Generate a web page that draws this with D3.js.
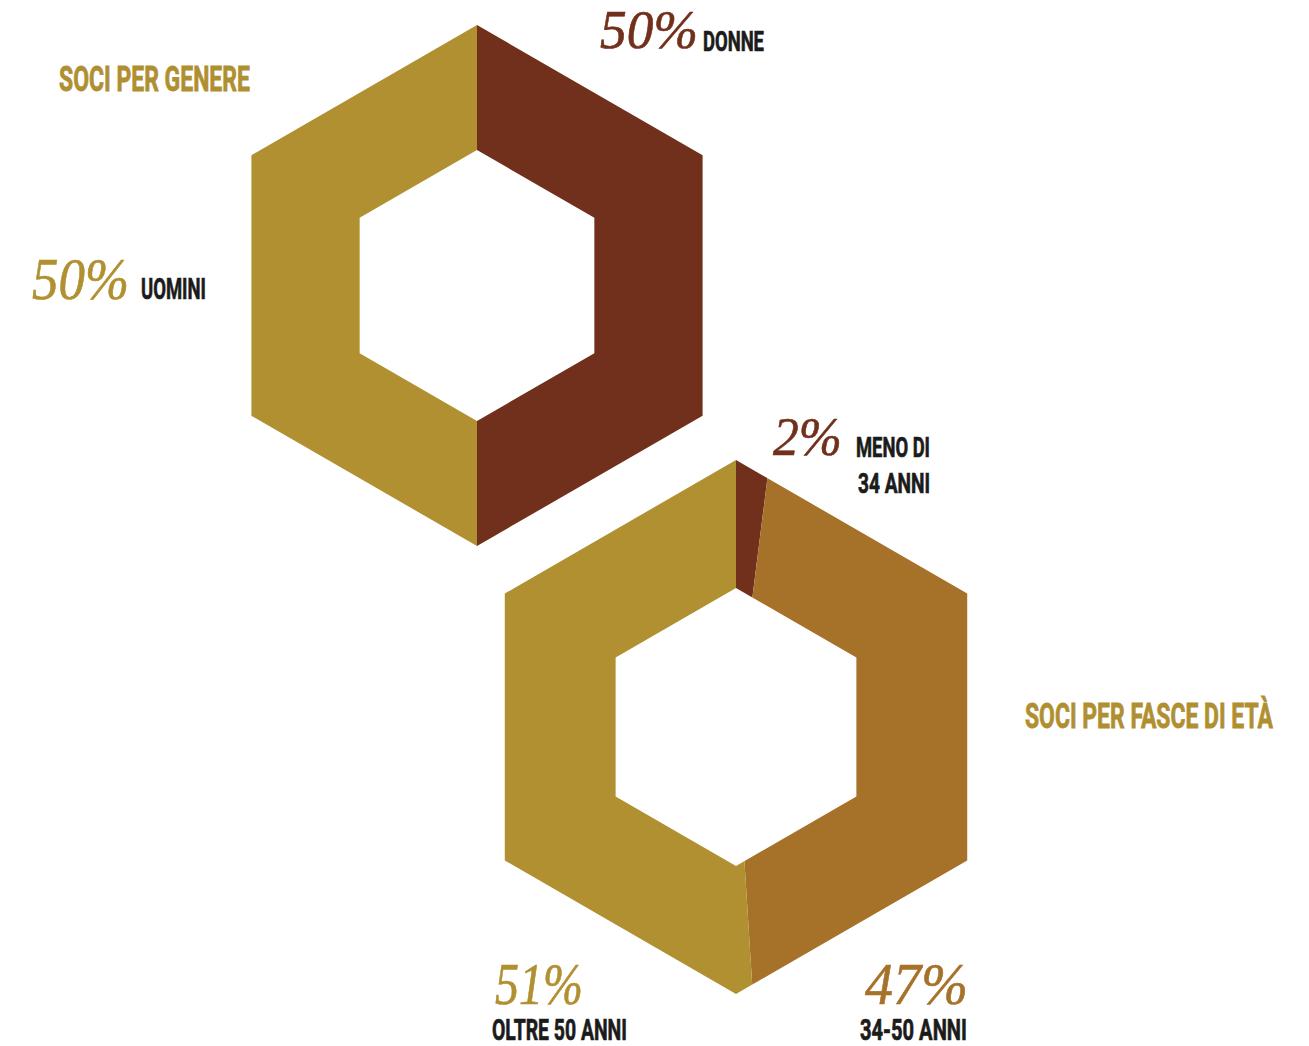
<!DOCTYPE html>
<html>
<head>
<meta charset="utf-8">
<script src="https://cdn.jsdelivr.net/npm/d3@7"></script>
<style>
  html, body { margin: 0; padding: 0; background: #ffffff; }
  svg { display: block; }
</style>
</head>
<body>
<svg id="chart" width="1309" height="1046"></svg>
<script>
// Soci per genere
const genderLabels = ["DONNE", "UOMINI"];
const genderValues = [50, 50];
const genderColors = ["#71301B", "#B09030"];

// Soci per fasce di età
const ageLabels = [["MENO DI", "34 ANNI"], ["34-50 ANNI"], ["OLTRE 50 ANNI"]];
const ageValues = [2, 47, 51];
const ageColors = ["#71301B", "#A6722A", "#B09030"];

const titles = ["SOCI PER GENERE", "SOCI PER FASCE DI ETÀ"];

const svg = d3.select("#chart");
const defs = svg.append("defs");

const SANS = "Roboto, 'Open Sans', sans-serif";
const SERIF = "'Liberation Serif', 'DejaVu Serif', serif";

// Pointy-top hexagon path, angles measured clockwise from 12 o'clock
function hexPath(r) {
  const pts = d3.range(6).map(i => {
    const a = i * Math.PI / 3;
    return [r * Math.sin(a), -r * Math.cos(a)];
  });
  return "M" + pts.map(p => p.join(",")).join("L") + "Z";
}

// Hexagonal donut: pie sectors clipped to the ring between two hexagons
function hexDonut(id, cx, cy, rOut, rIn, values, colors) {
  defs.append("clipPath").attr("id", id)
    .append("path")
    .attr("clip-rule", "evenodd")
    .attr("d", hexPath(rOut) + hexPath(rIn));

  const pie = d3.pie().sort(null).value(d => d);
  const arc = d3.arc().innerRadius(0).outerRadius(rOut * 1.25);

  const g = svg.append("g")
    .attr("transform", `translate(${cx},${cy})`)
    .attr("clip-path", `url(#${id})`);

  g.selectAll("path")
    .data(pie(values))
    .join("path")
    .attr("d", arc)
    .attr("fill", (d, i) => colors[i]);
}

hexDonut("clip-genere", 477, 285.5, 260.5, 135.5, genderValues, genderColors);
hexDonut("clip-eta", 736, 727, 267, 139, ageValues, ageColors);

// Text helper: squeezes the run horizontally to a target width (condensed display look)
function label(x, y, text, opts) {
  const g = svg.append("g").attr("transform", `translate(${x},${y})`);
  const t = g.append("text")
    .attr("fill", opts.color)
    .attr("font-family", opts.family)
    .attr("font-size", opts.size)
    .attr("font-weight", opts.weight || "normal")
    .attr("font-style", opts.style || "normal")
    .attr("stroke", opts.color)
    .attr("stroke-width", opts.stroke || 0)
    .attr("paint-order", "stroke")
    .text(text);
  if (opts.width) {
    const natural = t.node().getComputedTextLength();
    if (natural > 0) t.attr("transform", `scale(${opts.width / natural},1)`);
  }
  return t;
}

const pct = v => `${v}%`;
const title = { family: SANS, weight: 700, size: 35, color: "#B08F30", stroke: 0.8 };
const cat = { family: SANS, weight: 700, color: "#1b1b1b", stroke: 0.7 };
const num = { family: SERIF, style: "italic", stroke: 0.6 };

// Titles
label(59, 91, titles[0], { ...title, width: 191 });
label(1025, 728, titles[1], { ...title, width: 248 });

// Gender labels
label(600, 48, pct(genderValues[0]), { ...num, size: 55, color: genderColors[0], width: 98 });
label(703, 51, genderLabels[0], { ...cat, size: 28, width: 61 });
label(32, 299, pct(genderValues[1]), { ...num, size: 60, color: genderColors[1], width: 97 });
label(141, 299, genderLabels[1], { ...cat, size: 30, width: 65 });

// Age labels
label(773, 455, pct(ageValues[0]), { ...num, size: 54, color: ageColors[0], width: 69 });
label(856, 457, ageLabels[0][0], { ...cat, size: 28, width: 74 });
label(858, 493, ageLabels[0][1], { ...cat, size: 28, width: 72 });

label(865, 1004, pct(ageValues[1]), { ...num, size: 60, color: ageColors[1], width: 103 });
label(860, 1040, ageLabels[1][0], { ...cat, size: 30, width: 107 });

label(495, 1004, pct(ageValues[2]), { ...num, size: 60, color: ageColors[2], width: 88 });
label(492, 1040, ageLabels[2][0], { ...cat, size: 30, width: 135 });
</script>
</body>
</html>
